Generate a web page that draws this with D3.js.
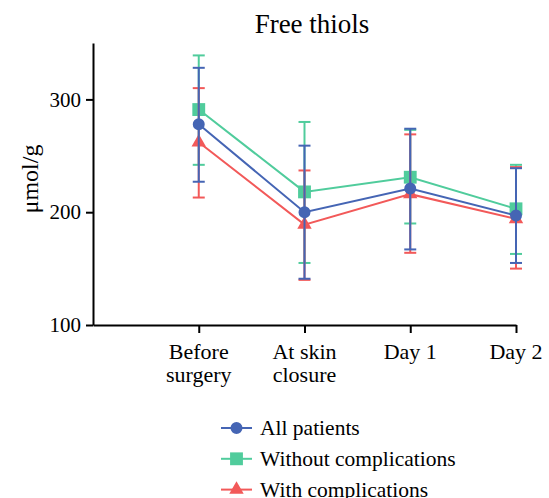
<html>
<head>
  <script type="text/javascript" src="https://cdn.jsdelivr.net/npm/d3@7"></script>
  <style>
  body { margin: 0; background: #fff; }
  text { font-family: "Liberation Serif", "Times New Roman", serif; fill: #000; }
  </style>
</head>
<body>

<script type="text/javascript">
var categories = [["Before", "surgery"], ["At skin", "closure"], ["Day 1"], ["Day 2"]];
var yTicks = [100, 200, 300];

var allMean = [278, 200, 221, 197];
var allLow  = [227, 141, 167, 155];
var allHigh = [328, 259, 274, 239];

var withoutMean = [291, 218, 231, 203];
var withoutLow  = [242, 155, 190, 163];
var withoutHigh = [339, 280, 273, 242];

var withMean = [262, 189, 216, 194];
var withLow  = [213, 140, 164, 150];
var withHigh = [310, 237, 269, 240];

var seriesNames = ["All patients", "Without complications", "With complications"];
var colors = ["#4565b4", "#50cc9c", "#f25959"];
var shapes = [d3.symbolCircle, d3.symbolSquare, d3.symbolTriangle];

var series = [
  { name: seriesNames[0], color: colors[0], shape: shapes[0], mean: allMean, low: allLow, high: allHigh, size: 113 },
  { name: seriesNames[1], color: colors[1], shape: shapes[1], mean: withoutMean, low: withoutLow, high: withoutHigh, size: 165 },
  { name: seriesNames[2], color: colors[2], shape: shapes[2], mean: withMean, low: withLow, high: withHigh, size: 90 }
];

var svg = d3.select("body").append("svg")
  .attr("width", 549)
  .attr("height", 498);

var x = d3.scaleLinear().domain([0, 4]).range([93, 516]);
var y = d3.scaleLinear().domain([100, 350]).range([325, 43]);

// axes
svg.append("g")
  .attr("transform", "translate(0,325)")
  .call(d3.axisBottom(x).tickValues([1, 2, 3, 4]).tickSize(8).tickSizeOuter(0).tickFormat(""))
  .call(function(g) {
    g.select(".domain").attr("stroke-width", 2);
    g.selectAll(".tick line").attr("stroke-width", 2);
  });

svg.append("g")
  .attr("transform", "translate(93,0)")
  .call(d3.axisLeft(y).tickValues(yTicks).tickSize(7).tickSizeOuter(0))
  .call(function(g) {
    g.select(".domain").attr("stroke-width", 2);
    g.selectAll(".tick line").attr("stroke-width", 2);
    g.selectAll(".tick text")
      .attr("x", -12)
      .style("font-size", "21px")
      .style("font-family", "Liberation Serif");
  });

// category labels
categories.forEach(function(lines, i) {
  var t = svg.append("text")
    .attr("x", x(i + 1))
    .attr("y", 359)
    .attr("text-anchor", "middle")
    .style("font-size", "22px");
  lines.forEach(function(l, k) {
    t.append("tspan").attr("x", x(i + 1)).attr("dy", k === 0 ? 0 : 23).text(l);
  });
});

svg.append("text")
  .attr("transform", "translate(38,179) rotate(-90)")
  .attr("text-anchor", "middle")
  .style("font-size", "24px")
  .text("μmol/g");

svg.append("text")
  .attr("x", 312)
  .attr("y", 33)
  .attr("text-anchor", "middle")
  .style("font-size", "27px")
  .text("Free thiols");

// series: green, red, then blue on top
var drawOrder = [1, 2, 0];
var line = d3.line().x(function(d, i) { return x(i + 1); }).y(function(d) { return y(d); });

drawOrder.forEach(function(si) {
  var s = series[si];
  var g = svg.append("g");
  var idx = d3.range(s.mean.length);

  g.selectAll("line.err").data(idx).enter().append("line")
    .attr("x1", function(i) { return x(i + 1); })
    .attr("x2", function(i) { return x(i + 1); })
    .attr("y1", function(i) { return y(s.low[i]); })
    .attr("y2", function(i) { return y(s.high[i]); })
    .attr("stroke", s.color).attr("stroke-width", 2);

  ["low", "high"].forEach(function(k) {
    g.selectAll("line.cap" + k).data(idx).enter().append("line")
      .attr("x1", function(i) { return x(i + 1) - 6; })
      .attr("x2", function(i) { return x(i + 1) + 6; })
      .attr("y1", function(i) { return y(s[k][i]); })
      .attr("y2", function(i) { return y(s[k][i]); })
      .attr("stroke", s.color).attr("stroke-width", 2);
  });

  g.append("path")
    .datum(s.mean)
    .attr("d", line)
    .attr("fill", "none")
    .attr("stroke", s.color)
    .attr("stroke-width", 2);

  g.selectAll("path.pt").data(s.mean).enter().append("path")
    .attr("transform", function(d, i) { return "translate(" + x(i + 1) + "," + y(d) + ")"; })
    .attr("d", d3.symbol().type(s.shape).size(s.size))
    .attr("fill", s.color);
});

// legend
series.forEach(function(s, i) {
  var ly = 428 + i * 30.8;
  var g = svg.append("g");
  g.append("line")
    .attr("x1", 221).attr("x2", 252).attr("y1", ly).attr("y2", ly)
    .attr("stroke", s.color).attr("stroke-width", 2);
  g.append("path")
    .attr("transform", "translate(236.5," + ly + ")")
    .attr("d", d3.symbol().type(s.shape).size(s.size))
    .attr("fill", s.color);
  g.append("text")
    .attr("x", 260)
    .attr("y", ly + 7)
    .style("font-size", "21.5px")
    .text(s.name);
});
</script>

</body>
</html>
